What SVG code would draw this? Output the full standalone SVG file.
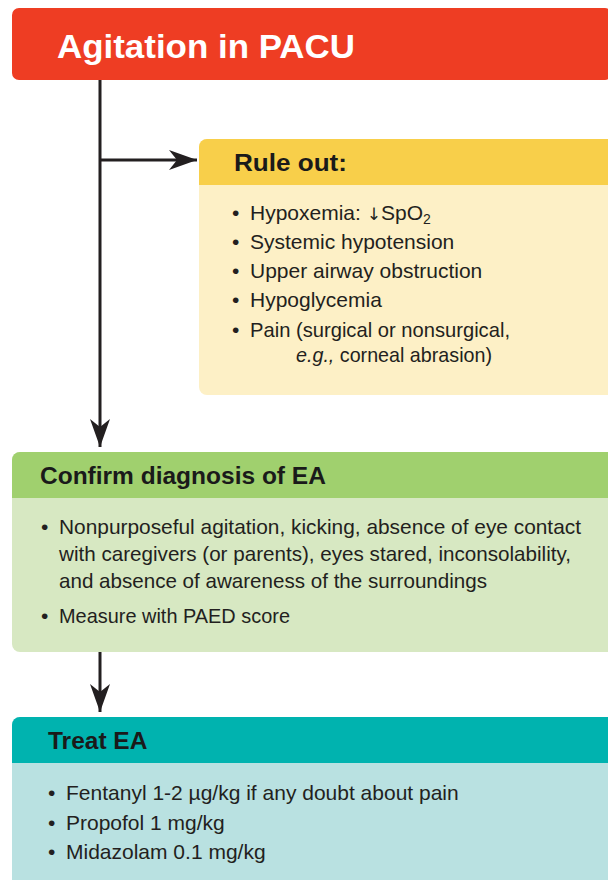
<svg xmlns="http://www.w3.org/2000/svg" width="608" height="880" viewBox="0 0 608 880">
<style>
.hdr{font-family:"Liberation Sans",Arial,sans-serif;font-weight:bold;fill:#1a1a1a;font-size:24.5px}
.txt{font-family:"Liberation Sans",Arial,sans-serif;fill:#231f20;font-size:21px}
.conn{stroke:#231f20;stroke-width:3;fill:none}
</style>
<defs>
<marker id="ah" markerUnits="userSpaceOnUse" viewBox="-30 -12 32 24" refX="0" refY="0" markerWidth="32" markerHeight="24" orient="auto">
<path d="M0,0 L-28,-10 L-20,0 L-28,10 Z" fill="#231f20"/>
</marker>
</defs>
<rect width="608" height="880" fill="#ffffff"/>
<g id="connectors">
<line class="conn" x1="100" y1="80" x2="100" y2="447" marker-end="url(#ah)"/>
<line class="conn" x1="100" y1="160" x2="197" y2="160" marker-end="url(#ah)"/>
<line class="conn" x1="100" y1="652" x2="100" y2="712" marker-end="url(#ah)"/>
</g>
<g id="agitation">
<rect x="12" y="8" width="600" height="72" rx="7" fill="#ee3d23"/>
<text x="57" y="58" font-family="'Liberation Sans',Arial,sans-serif" font-weight="bold" font-size="33" fill="#ffffff" textLength="298" lengthAdjust="spacingAndGlyphs">Agitation in PACU</text>
</g>
<g id="rule-out">
<rect x="199" y="139" width="420" height="256" rx="8" fill="#fdf0c6"/>
<path d="M199,185 V147 a8,8 0 0 1 8,-8 H619 V185 Z" fill="#f8cf4a"/>
<text class="hdr" x="234" y="171" textLength="113" lengthAdjust="spacingAndGlyphs">Rule out:</text>
<text class="txt" x="232" y="220">•</text>
<text class="txt" x="250" y="220">Hypoxemia: <tspan font-family="'DejaVu Sans',sans-serif" font-size="17">↓</tspan>SpO<tspan font-size="14" dy="4">2</tspan></text>
<text class="txt" x="232" y="249">•</text>
<text class="txt" x="250" y="249">Systemic hypotension</text>
<text class="txt" x="232" y="278">•</text>
<text class="txt" x="250" y="278">Upper airway obstruction</text>
<text class="txt" x="232" y="307">•</text>
<text class="txt" x="250" y="307">Hypoglycemia</text>
<text class="txt" x="232" y="337">•</text>
<text class="txt" x="250" y="337" textLength="260" lengthAdjust="spacingAndGlyphs">Pain (surgical or nonsurgical,</text>
<text class="txt" x="296" y="362" textLength="196" lengthAdjust="spacingAndGlyphs"><tspan font-style="italic">e.g.,</tspan> corneal abrasion)</text>
</g>
<g id="confirm">
<rect x="12" y="452" width="606" height="200" rx="8" fill="#d7e8c2"/>
<path d="M12,498 V460 a8,8 0 0 1 8,-8 H618 V498 Z" fill="#a0d06e"/>
<text class="hdr" x="40" y="484">Confirm diagnosis of EA</text>
<text class="txt" x="41" y="534">•</text>
<text class="txt" x="59" y="534" textLength="522" lengthAdjust="spacingAndGlyphs">Nonpurposeful agitation, kicking, absence of eye contact</text>
<text class="txt" x="59" y="561" textLength="512" lengthAdjust="spacingAndGlyphs">with caregivers (or parents), eyes stared, inconsolability,</text>
<text class="txt" x="59" y="588" textLength="428" lengthAdjust="spacingAndGlyphs">and absence of awareness of the surroundings</text>
<text class="txt" x="41" y="623">•</text>
<text class="txt" x="59" y="623" textLength="231" lengthAdjust="spacingAndGlyphs">Measure with PAED score</text>
</g>
<g id="treat">
<rect x="12" y="717" width="606" height="180" rx="8" fill="#b9e1e1"/>
<path d="M12,763 V725 a8,8 0 0 1 8,-8 H618 V763 Z" fill="#00b3af"/>
<text class="hdr" x="48" y="749">Treat EA</text>
<text class="txt" x="48" y="800">•</text>
<text class="txt" x="66" y="800">Fentanyl 1-2 µg/kg if any doubt about pain</text>
<text class="txt" x="48" y="830">•</text>
<text class="txt" x="66" y="830">Propofol 1 mg/kg</text>
<text class="txt" x="48" y="859">•</text>
<text class="txt" x="66" y="859">Midazolam 0.1 mg/kg</text>
</g>
</svg>
